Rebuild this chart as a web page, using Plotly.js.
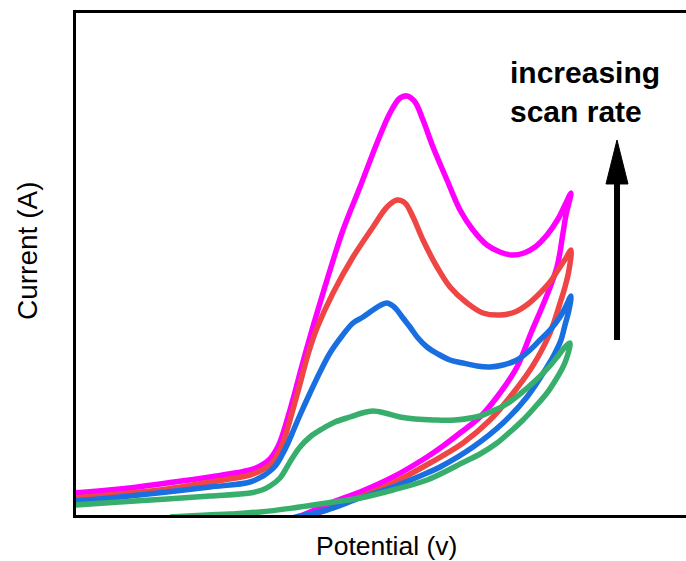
<!DOCTYPE html>
<html>
<head>
<meta charset="utf-8">
<script src="https://cdn.plot.ly/plotly-3.0.1.min.js"></script>
<style>html,body{margin:0;padding:0;background:#fff;}#chart{width:686px;height:561px;}</style>
</head>
<body>
<div id="chart"></div>
<script>
// Potential (mV, arbitrary offset) and current (µA, arbitrary).
// Each scan: forward sweep then return sweep.
const magentaX = [0,46,93,136,176,188,196,201,206,211,216,221,226,232,240,253,269,286,303,316,326,333,341,349,359,373,386,399,413,426,438,450,461,473,484,491,497,
                  492,489,483,471,457,443,423,406,386,369,353,319,286,259,236,216,176];
const magentaY = [2.2,2.6,3.2,3.8,4.5,5.0,5.6,6.3,7.3,8.8,10.5,12.3,14.2,16.4,19.2,23.5,28.5,32.8,37.2,40.2,41.7,41.9,41.3,39.5,36.8,33.5,30.5,28.5,27.0,26.3,26.0,26.2,26.8,28.0,29.6,31.0,32.2,
                  30.0,28.2,24.8,21.5,18.2,14.8,11.8,9.8,8.2,6.9,5.8,3.8,2.3,1.3,0.3,-0.5,-1.7];

const redX = [0,46,93,136,176,188,196,201,206,211,216,221,226,231,236,243,259,279,299,313,323,331,339,349,363,376,393,409,426,441,454,466,476,486,492,497,
              495,491,487,476,458,436,416,389,356,319,286,259,239,216,176];
const redY = [1.7,2.1,2.6,3.3,4.0,4.5,5.0,5.6,6.5,7.8,9.5,11.3,13.1,15.0,16.7,18.7,22.2,25.8,28.8,30.8,31.5,31.2,29.8,27.5,24.8,22.8,21.2,20.2,20.0,20.3,21.1,22.2,23.3,24.8,25.7,26.5,
              24.5,22.8,21.5,18.2,14.8,11.8,9.5,7.2,5.2,3.2,1.8,0.8,0.0,-0.7,-2.0];

const blueX = [0,46,93,136,176,189,196,202,208,214,220,226,236,246,256,268,279,289,299,307,313,319,323,329,336,344,353,364,376,389,403,416,429,443,456,466,476,486,492,497,
               495,491,487,480,473,453,429,399,366,353,319,286,253,226,196,156];
const blueY = [1.4,1.8,2.3,2.8,3.3,3.9,4.4,5.0,6.0,7.2,8.6,10.0,12.2,14.3,16.2,17.9,19.2,19.8,20.5,21.0,21.2,20.9,20.5,19.7,18.8,17.7,16.8,16.1,15.5,15.2,14.9,14.8,15.0,15.5,16.5,17.5,18.5,19.8,20.9,21.9,
               20.5,19.0,17.5,16.0,14.8,11.8,9.2,6.8,4.8,4.2,2.8,1.7,0.5,-0.1,-0.9,-2.0];

const greenX = [0,46,93,136,176,188,196,206,213,219,226,236,248,261,276,288,299,311,326,341,359,381,406,416,431,446,461,474,484,491,496,
                493,489,481,473,461,449,436,423,406,388,353,319,286,253,219,186,156,133,96];
const greenY = [1.0,1.3,1.6,1.9,2.2,2.5,2.9,3.7,4.8,5.8,6.8,7.8,8.6,9.3,9.8,10.2,10.4,10.2,9.8,9.6,9.5,9.5,9.9,10.3,11.0,12.1,13.4,14.7,15.9,16.8,17.2,
                15.8,14.8,13.4,12.2,10.8,9.5,8.3,7.2,6.1,5.2,3.5,2.5,1.7,1.2,0.7,0.3,0.1,0.0,-0.2];

const seriesNames = ['fastest scan', 'fast scan', 'medium scan', 'slow scan'];
const seriesColors = ['#ff00ff', '#f04545', '#1a6fe0', '#38ae6c'];
const xs = [magentaX, redX, blueX, greenX];
const ys = [magentaY, redY, blueY, greenY];

const xTitle = 'Potential (v)';
const yTitle = 'Current (A)';
const noteText = '<b>increasing<br>scan rate</b>';

const FONT = 'Liberation Sans, Arial, Helvetica, sans-serif';

const traces = xs.map((x, i) => ({
  type: 'scatter',
  mode: 'lines',
  name: seriesNames[i],
  x: x,
  y: ys[i],
  line: {color: seriesColors[i], width: 5.5, shape: 'spline', smoothing: 1.0},
  hoverinfo: 'skip'
}));

const layout = {
  width: 686,
  height: 561,
  margin: {l: 76, r: 0, t: 13, b: 46},
  paper_bgcolor: '#ffffff',
  plot_bgcolor: '#ffffff',
  showlegend: false,
  font: {family: FONT, color: '#000000'},
  xaxis: {
    range: [2, 612],
    showline: true, linecolor: '#000000', linewidth: 3, mirror: true,
    showgrid: false, zeroline: false, ticks: '', showticklabels: false
  },
  yaxis: {
    range: [0, 50.2],
    showline: true, linecolor: '#000000', linewidth: 3, mirror: false,
    showgrid: false, zeroline: false, ticks: '', showticklabels: false
  },
  annotations: [
    {
      xref: 'paper', yref: 'paper',
      x: 0.7075, y: 0.8426, xanchor: 'left', yanchor: 'middle',
      text: noteText, showarrow: false, align: 'left',
      font: {family: FONT, size: 30, color: '#000000'}
    },
    {
      xref: 'paper', yref: 'paper',
      x: (386 - 76) / 610, y: (515 - 546) / 502, xanchor: 'center', yanchor: 'middle',
      text: xTitle, showarrow: false,
      font: {family: FONT, size: 26.5, color: '#000000'}
    },
    {
      xref: 'paper', yref: 'paper',
      x: (27 - 76) / 610, y: (515 - 251) / 502, xanchor: 'center', yanchor: 'middle',
      text: yTitle, showarrow: false, textangle: -90,
      font: {family: FONT, size: 28, color: '#000000'}
    }
  ],
  shapes: [
    {type: 'line', xref: 'paper', yref: 'paper', x0: 0.8869, x1: 0.8869, y0: 0.3486, y1: 0.6673,
     line: {color: '#000000', width: 6}},
    {type: 'path', xref: 'paper', yref: 'paper',
     path: 'M 0.8689 0.6594 L 0.9049 0.6594 L 0.8869 0.7470 Z',
     fillcolor: '#000000', line: {color: '#000000', width: 1}}
  ]
};

Plotly.newPlot('chart', traces, layout, {displayModeBar: false, staticPlot: true});
</script>
</body>
</html>
